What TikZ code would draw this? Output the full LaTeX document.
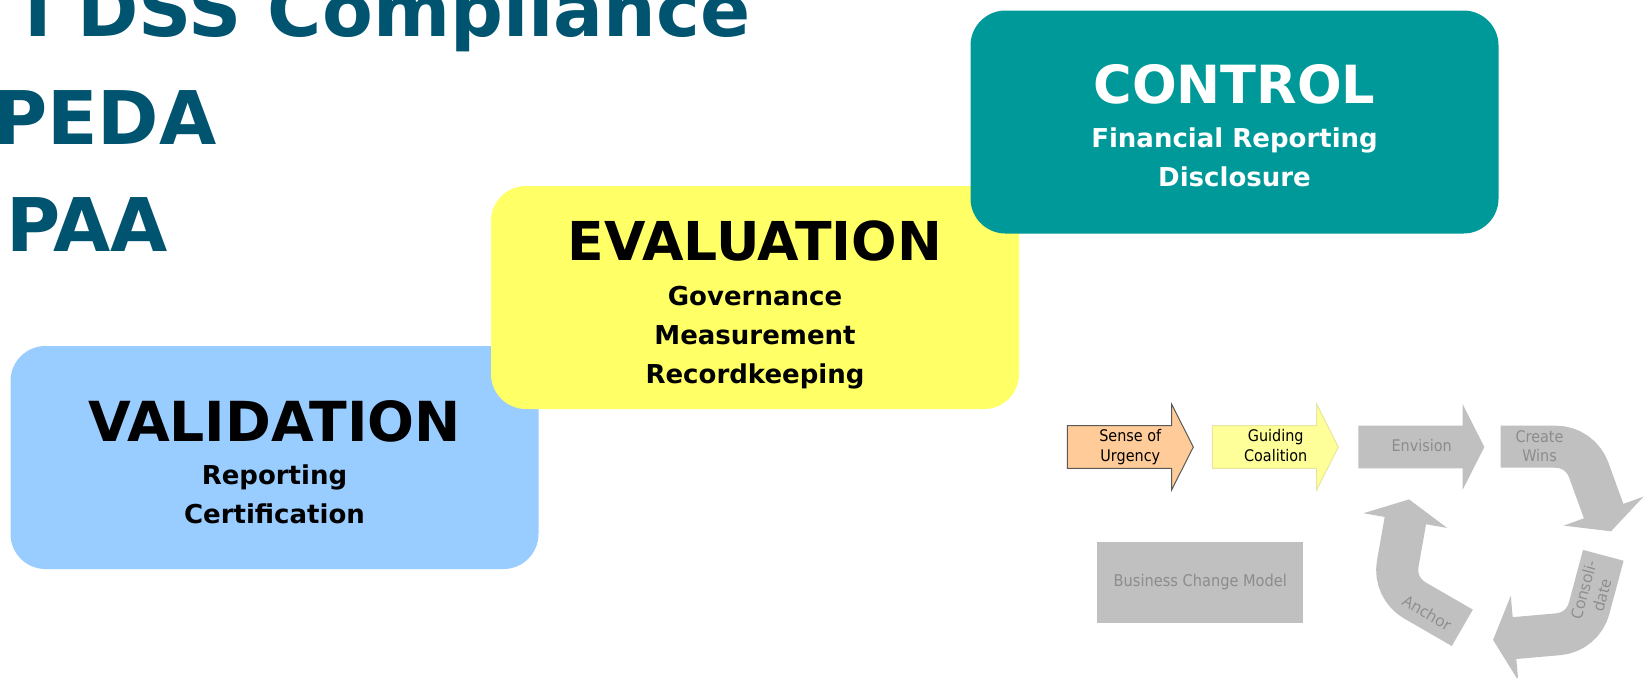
\documentclass[tikz,border=0pt]{standalone}
\usepackage{fontspec}
\setmainfont{DejaVu Sans}
\newfontfamily\narrowsans[FakeStretch=0.9]{DejaVu Sans}
\newfontfamily\opensans{Open Sans}

\definecolor{lawblue}{RGB}{0,84,112}
\definecolor{valblue}{RGB}{153,204,255}
\definecolor{evalyellow}{RGB}{255,255,102}
\definecolor{ctrlteal}{RGB}{0,153,153}
\definecolor{urgencyorange}{RGB}{255,204,153}
\definecolor{coalitionyellow}{RGB}{255,255,153}
\definecolor{coalitionedge}{RGB}{230,230,160}
\definecolor{cyclegray}{RGB}{192,192,192}
\definecolor{cycletext}{RGB}{140,140,140}

\tikzset{
  law/.style={anchor=base east, inner sep=0pt, text=lawblue,
    font=\bfseries\fontsize{37pt}{44pt}\selectfont},
  phase box/.style={rectangle, rounded corners=17.5pt, minimum width=264pt,
    minimum height=111.5pt, inner sep=0pt},
  phase title/.style={anchor=base, inner sep=0pt,
    font=\bfseries\fontsize{#1}{32pt}\selectfont},
  phase item/.style={anchor=base, inner sep=0pt,
    font=\bfseries\fontsize{13pt}{16pt}\selectfont},
  urgency arrow/.style={fill=urgencyorange, draw=black!65, line width=0.5pt},
  coalition arrow/.style={fill=coalitionyellow, draw=coalitionedge, line width=0.5pt},
  cycle fill/.style={fill=cyclegray, draw=none},
  cycle shaft/.style={draw=cyclegray, line width=21pt},
  step label/.style={anchor=base, inner sep=0pt,
    font=\narrowsans\fontsize{8pt}{10pt}\selectfont},
  cycle label/.style={inner sep=0pt, text=cycletext, align=center,
    font=\opensans\fontsize{8pt}{9.5pt}\selectfont},
}

% straight step arrow: #1 left x, #2 style
\newcommand\steparrow[2]{%
  \path[#2] (#1,425.7) -- ++(104.4,0) -- ++(0,-21.4) -- ++(21.6,42.7)
    -- ++(-21.6,42.7) -- ++(0,-21.4) -- ++(-104.4,0) -- cycle;
}

% bent arrow of the change cycle: #1 tail centre, #2 start direction, #3 head base name
\newcommand\cyclearrow[3]{%
  \pgfmathsetmacro\cwArc{#2-90}%
  \pgfmathsetmacro\cwEnd{#2+70}%
  \pgfmathsetmacro\cwLeft{#2-20}%
  \pgfmathsetmacro\cwRight{#2+160}%
  \draw[cycle shaft] #1 -- ++(#2:55) arc[start angle=\cwArc, delta angle=70, radius=35]
    -- ++(\cwEnd:44) coordinate (#3) -- ++(\cwEnd:2);
  \fill[cycle fill] (#3) +(\cwLeft:42.5) -- +(\cwEnd:21.5) -- +(\cwRight:42.5) -- cycle;
}

\begin{document}
\begin{tikzpicture}[x=0.5pt,y=-0.5pt]
\useasboundingbox (0,0) rectangle (1652,677);
\clip (0,0) rectangle (1652,677);
\fill[white] (0,0) rectangle (1652,677);

% regulations
\node[law] (pci) at (751,36) {I DSS Compliance};
\node[law] (pipeda) at (217,144) {PEDA};
\node[law] (hipaa) at (168.5,251.7) {PAA};

% validation
\node[phase box, fill=valblue] (validation) at (274.5,457.5) {};
\node[phase title=27.6pt] (valtitle) at (274.5,441.7) {VALIDATION};
\node[phase item] (valrep) at (274.5,484.5) {Reporting};
\node[phase item] (valcert) at (274.5,523.5) {Certification};

% evaluation
\node[phase box, fill=evalyellow] (evaluation) at (755,297.5) {};
\node[phase title=26.8pt] (evaltitle) at (755,260) {EVALUATION};
\node[phase item] (evalgov) at (755,305.5) {Governance};
\node[phase item] (evalmeas) at (755,344.5) {Measurement};
\node[phase item] (evalrec) at (755,383) {Recordkeeping};

% control
\node[phase box, fill=ctrlteal] (control) at (1234.5,122) {};
\node[phase title=26.3pt, text=white] (ctrltitle) at (1234.5,103.3) {CONTROL};
\node[phase item, text=white] (ctrlfin) at (1234.5,147) {Financial Reporting};
\node[phase item, text=white] (ctrldisc) at (1234.5,186.5) {Disclosure};

% business change model
\steparrow{1067.3}{urgency arrow}
\node[step label] (urgency1) at (1130.3,441.7) {Sense of};
\node[step label] (urgency2) at (1130.3,461.7) {Urgency};

\steparrow{1212.3}{coalition arrow}
\node[step label] (coalition1) at (1275.7,441.7) {Guiding};
\node[step label] (coalition2) at (1275.7,461.7) {Coalition};

\steparrow{1358.3}{cycle fill}
\node[step label, text=cycletext] (envision) at (1421.7,451.7) {Envision};

\cyclearrow{(1500.7,446.7)}{0}{winshead}
\node[step label, text=cycletext] (wins1) at (1539.5,442) {Create};
\node[step label, text=cycletext] (wins2) at (1539.5,461.7) {Wins};

\cyclearrow{(1603.3,555.3)}{105}{consolhead}
\node[cycle label, rotate=75] (consol) at (1592.5,592.5) {Consoli-\\date};

\cyclearrow{(1462.3,627.8)}{210}{anchorhead}
\node[cycle label, rotate=-30] (anchortext) at (1427.3,612.7) {Anchor};

\node[cycle fill, minimum width=103pt, minimum height=40.5pt, inner sep=0pt,
  text=cycletext, font=\narrowsans\fontsize{8.1pt}{10pt}\selectfont]
  (model) at (1200.3,582.2) {Business Change Model};
\end{tikzpicture}
\end{document}
